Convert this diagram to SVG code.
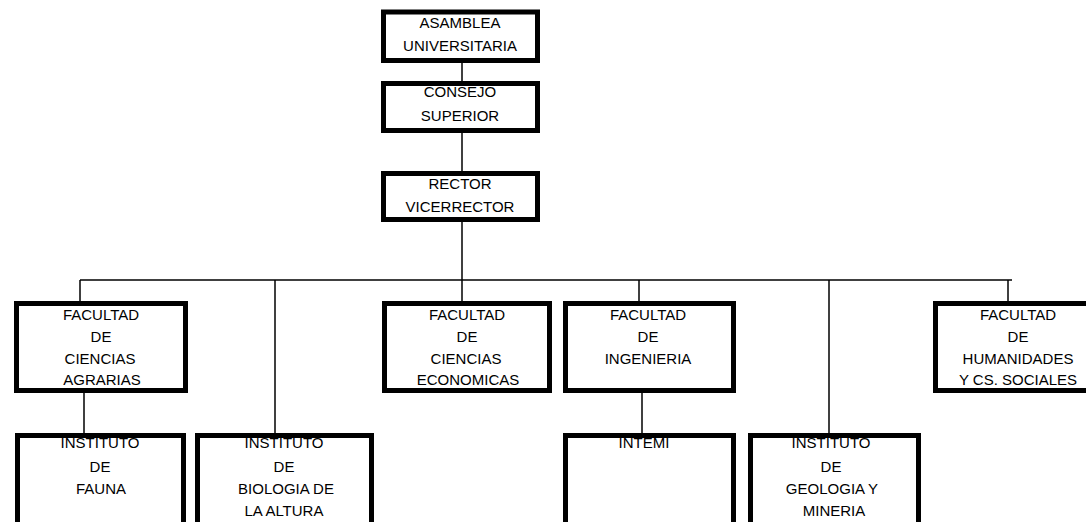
<svg xmlns="http://www.w3.org/2000/svg" width="1086" height="522" viewBox="0 0 1086 522">
<style>
.bg{fill:#fff;stroke:none}
.bx{fill:none;stroke:#000;stroke-width:5}
.t{font-family:"Liberation Sans",Arial,sans-serif;font-size:15px;fill:#000;text-anchor:middle}
.c{stroke:#000;stroke-width:1.5;fill:none}
</style>
<rect width="1086" height="522" fill="#fff"/>
<g id="connectors">
<line class="c" x1="462" y1="63" x2="462" y2="81"/>
<line class="c" x1="462" y1="133" x2="462" y2="171"/>
<line class="c" x1="462" y1="210" x2="462" y2="280"/>
<line class="c" x1="80" y1="280" x2="1012" y2="280"/>
<line class="c" x1="80" y1="280" x2="80" y2="301"/>
<line class="c" x1="275" y1="280" x2="275" y2="433"/>
<line class="c" x1="462" y1="280" x2="462" y2="301"/>
<line class="c" x1="639" y1="280" x2="639" y2="301"/>
<line class="c" x1="829" y1="280" x2="829" y2="433"/>
<line class="c" x1="1008" y1="280" x2="1008" y2="301"/>
<line class="c" x1="84" y1="393" x2="84" y2="433"/>
<line class="c" x1="642" y1="393" x2="642" y2="433"/>
</g>
<g id="asamblea">
<rect class="bg" x="383.5" y="12" width="154" height="48.5"/>
<text class="t" x="460" y="28">ASAMBLEA</text>
<text class="t" x="460" y="51">UNIVERSITARIA</text>
<rect class="bx" x="383.5" y="12" width="154" height="48.5"/>
</g>
<g id="consejo">
<rect class="bg" x="383.5" y="83.5" width="154" height="47"/>
<text class="t" x="460" y="97">CONSEJO</text>
<text class="t" x="460" y="121">SUPERIOR</text>
<rect class="bx" x="383.5" y="83.5" width="154" height="47"/>
</g>
<g id="rector">
<rect class="bg" x="383.5" y="173.5" width="154" height="46"/>
<text class="t" x="460" y="189">RECTOR</text>
<text class="t" x="460" y="212">VICERRECTOR</text>
<rect class="bx" x="383.5" y="173.5" width="154" height="46"/>
</g>
<g id="agrarias">
<rect class="bg" x="16.5" y="303.5" width="169" height="87"/>
<text class="t" x="101" y="320">FACULTAD</text>
<text class="t" x="101" y="342">DE</text>
<text class="t" x="100" y="364">CIENCIAS</text>
<text class="t" x="102" y="385">AGRARIAS</text>
<rect class="bx" x="16.5" y="303.5" width="169" height="87"/>
</g>
<g id="economicas">
<rect class="bg" x="384.5" y="303.5" width="165" height="87"/>
<text class="t" x="467" y="320">FACULTAD</text>
<text class="t" x="467" y="342">DE</text>
<text class="t" x="466" y="364">CIENCIAS</text>
<text class="t" x="468" y="385">ECONOMICAS</text>
<rect class="bx" x="384.5" y="303.5" width="165" height="87"/>
</g>
<g id="ingenieria">
<rect class="bg" x="565.5" y="303.5" width="168" height="87"/>
<text class="t" x="648" y="320">FACULTAD</text>
<text class="t" x="648" y="342">DE</text>
<text class="t" x="648" y="364">INGENIERIA</text>
<rect class="bx" x="565.5" y="303.5" width="168" height="87"/>
</g>
<g id="humanidades">
<rect class="bg" x="935.5" y="303.5" width="157" height="87"/>
<text class="t" x="1018" y="320">FACULTAD</text>
<text class="t" x="1018" y="342">DE</text>
<text class="t" x="1018" y="364">HUMANIDADES</text>
<text class="t" x="1018" y="385">Y CS. SOCIALES</text>
<rect class="bx" x="935.5" y="303.5" width="157" height="87"/>
</g>
<g id="fauna">
<rect class="bg" x="17.5" y="435.5" width="166" height="95"/>
<text class="t" x="100" y="448">INSTITUTO</text>
<text class="t" x="100" y="472">DE</text>
<text class="t" x="101" y="494">FAUNA</text>
<rect class="bx" x="17.5" y="435.5" width="166" height="95"/>
</g>
<g id="biologia">
<rect class="bg" x="197.5" y="435.5" width="174" height="95"/>
<text class="t" x="284" y="448">INSTITUTO</text>
<text class="t" x="284" y="472">DE</text>
<text class="t" x="286" y="494">BIOLOGIA DE</text>
<text class="t" x="284" y="516">LA ALTURA</text>
<rect class="bx" x="197.5" y="435.5" width="174" height="95"/>
</g>
<g id="intemi">
<rect class="bg" x="565.5" y="435.5" width="168" height="95"/>
<text class="t" x="644" y="448">INTEMI</text>
<rect class="bx" x="565.5" y="435.5" width="168" height="95"/>
</g>
<g id="geologia">
<rect class="bg" x="750.5" y="435.5" width="168" height="95"/>
<text class="t" x="831" y="448">INSTITUTO</text>
<text class="t" x="831" y="472">DE</text>
<text class="t" x="832" y="494">GEOLOGIA Y</text>
<text class="t" x="834" y="516">MINERIA</text>
<rect class="bx" x="750.5" y="435.5" width="168" height="95"/>
</g>
</svg>
